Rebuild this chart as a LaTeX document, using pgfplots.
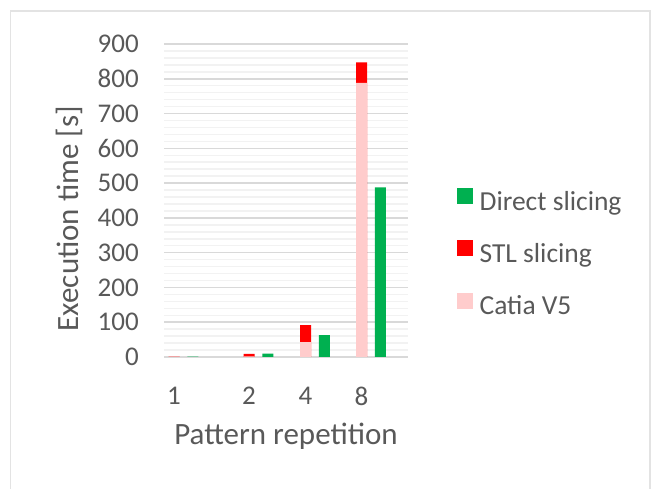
\documentclass[border=0pt]{standalone}
\usepackage{pgfplots}
\pgfplotsset{compat=1.18}
\usepackage{fontspec}
\setmainfont{Carlito}
\definecolor{txt}{HTML}{595959}
\definecolor{majgrid}{HTML}{D9D9D9}
\definecolor{mingrid}{HTML}{F2F2F2}
\definecolor{dgreen}{HTML}{00B050}
\definecolor{sred}{HTML}{FF0000}
\definecolor{cpink}{HTML}{FFCCCC}
\definecolor{frame}{HTML}{E3E3E3}
\begin{document}
\begin{tikzpicture}[x=1pt,y=1pt]
\useasboundingbox (0,0) rectangle (656,489);
\draw[frame, line width=1.5pt] (10.5,-5) -- (10.5,478) -- (650,478) -- (650,-5);
\begin{axis}[
  at={(164pt,132pt)}, anchor=south west,
  scale only axis, width=244pt, height=313pt,
  xmin=164, xmax=408, ymin=0, ymax=900,
  xtick={174,249,305.5,361.5}, xticklabels={1,2,4,8},
  ytick={0,100,...,900},
  minor y tick num=4,
  ymajorgrids, yminorgrids,
  major grid style={majgrid, line width=1.5pt},
  minor grid style={mingrid, line width=1.5pt},
  axis line style={draw=none},
  major tick length=0pt, minor tick length=0pt,
  tick style={draw=none},
  /pgf/number format/assume math mode=true,
  every tick label/.append style={font=\fontsize{27}{32}\selectfont, text=txt},
  yticklabel style={anchor=east, inner sep=0pt, xshift=-25pt},
  xticklabel style={anchor=north, inner sep=0pt, yshift=-30pt},
  xlabel={Pattern repetition},
  ylabel={Execution time [s]},
  label style={font=\fontsize{31}{37}\selectfont, text=txt, inner sep=0pt},
  xlabel style={at={(axis description cs:0.5,-0.281)}, anchor=base},
  ylabel style={at={(axis description cs:-0.389,0.442)}, anchor=center, rotate=0},
  legend style={at={(axis description cs:1.2008,0.540)}, anchor=north west,
    draw=none, fill=none, inner sep=0pt, row sep=24pt, column sep=0pt,
    font=\fontsize{27.5}{33}\selectfont, text=txt,
    nodes={inner sep=0pt, text height=19pt, text depth=6pt}},
  legend cell align=left,
]
% Catia V5 and STL slicing (stacked): red bar drawn to the total, pink covers the Catia part
\addplot[ybar, bar width=11, bar shift=0pt, fill=sred, draw=none, forget plot]
  table[x=x, y expr=\thisrow{catia}+\thisrow{stl}] {
x     catia stl
174   1     0
249   2     7
305.5 43    49
361.5 788   59
};
\addplot[ybar, bar width=11, bar shift=0pt, fill=cpink, draw=none, forget plot]
  table[x=x, y=catia] {
x     catia
174   1
249   2
305.5 43
361.5 788
};
% Direct slicing
\addplot[ybar, bar width=11, bar shift=0pt, fill=dgreen, draw=none, forget plot]
  table[x=x, y=direct] {
x      direct
192.75 1
267.75 10
324.25 63
380.25 488
};
\addlegendimage{legend image code/.code={\fill[dgreen] (0pt,0.5pt) rectangle (15pt,15.5pt); \path (22pt,0pt);}}
\addlegendentry{Direct slicing}
\addlegendimage{legend image code/.code={\fill[sred] (0pt,0.5pt) rectangle (15pt,15.5pt); \path (22pt,0pt);}}
\addlegendentry{STL slicing}
\addlegendimage{legend image code/.code={\fill[cpink] (0pt,0.5pt) rectangle (15pt,15.5pt); \path (22pt,0pt);}}
\addlegendentry{Catia V5}
\end{axis}
\end{tikzpicture}
\end{document}
